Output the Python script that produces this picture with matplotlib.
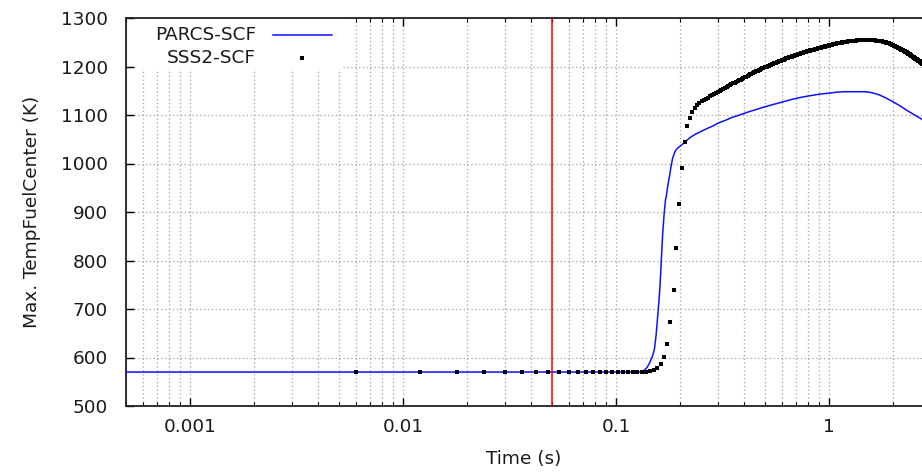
import numpy as np
import matplotlib
matplotlib.use("Agg")
import matplotlib.pyplot as plt
from matplotlib.patches import Rectangle
from matplotlib.ticker import FixedLocator, FixedFormatter, LogLocator, NullFormatter

plt.rcParams['font.family'] = ['DejaVu Sans']

# ---------------- data ----------------
parcs_time = [0.0005, 0.01, 0.1, 0.129, 0.136, 0.140, 0.144, 0.148, 0.1513, 0.154,
              0.1567, 0.159, 0.161, 0.163, 0.1655, 0.168, 0.1705, 0.172, 0.175, 0.178,
              0.181, 0.184, 0.188, 0.191, 0.195, 0.200, 0.209, 0.215, 0.225, 0.237,
              0.25, 0.27, 0.284, 0.30, 0.33, 0.35, 0.38, 0.422, 0.46, 0.5,
              0.55, 0.606, 0.68, 0.75, 0.82, 0.9, 1.0, 1.08, 1.17, 1.3,
              1.45, 1.55, 1.65, 1.73, 1.85, 2.0, 2.15, 2.31, 2.5, 2.73]
parcs_temp = [570, 570, 570, 570, 574, 580, 590, 602, 617, 645,
              684, 718, 753, 800, 856, 895, 925, 932, 955, 973,
              993, 1010, 1022, 1028, 1032, 1036, 1043, 1048, 1055, 1061,
              1066, 1073, 1077, 1083, 1090, 1095, 1100, 1107, 1112, 1117,
              1122, 1127, 1133, 1137, 1140, 1143, 1145, 1147, 1148, 1148,
              1148, 1147, 1144, 1141, 1135, 1127, 1119, 1110, 1101, 1091]

# SSS2 output every 0.006 s
sss2_dt = 0.006
sss2_temp = [
    570, 570, 570, 570, 570, 570, 570, 570, 570, 570, 570, 570, 570, 570, 570, 570, 570, 570, 570, 570, 570, 570,
    570, 572, 574, 578, 586, 601, 627, 673, 740, 826, 917, 990, 1044, 1077, 1094, 1106, 1114, 1121,
    1124, 1128, 1131, 1134, 1136, 1139, 1141, 1144, 1146, 1148,
    1150, 1152, 1154, 1156, 1158, 1160, 1162,
    1163, 1165, 1167, 1169, 1170,
    1172, 1173, 1175, 1176, 1178, 1179, 1181, 1182, 1184, 1185, 1187,
    1188, 1189, 1190, 1191, 1192, 1193, 1195, 1196, 1197, 1198, 1199, 1200, 1201, 1202,
    1203, 1204, 1205,
    1206, 1207, 1207, 1208, 1209,
    1210, 1211, 1211, 1212, 1213,
    1214, 1214, 1215, 1216, 1217,
    1218, 1218, 1219, 1219, 1220,
    1220, 1221, 1221, 1222, 1223,
    1223, 1224, 1224, 1225, 1225,
    1226, 1226, 1227, 1227, 1228,
    1228, 1229, 1229, 1230, 1230, 1231, 1231, 1232,
    1232, 1232, 1233, 1233, 1234, 1234, 1234, 1235, 1235,
    1236, 1236, 1236, 1237, 1237, 1238, 1238, 1238,
    1239, 1239, 1239, 1240, 1240, 1240, 1241, 1241, 1241, 1242,
    1242, 1242, 1243, 1243, 1243, 1243, 1244, 1244, 1244, 1245,
    1245, 1245, 1246, 1246, 1246, 1246, 1247, 1247,
    1247, 1247, 1248, 1248, 1248, 1248, 1248, 1248, 1249, 1249, 1249, 1249,
    1249, 1250, 1250, 1250, 1250, 1250, 1250, 1251, 1251, 1251,
    1251, 1251, 1251, 1252, 1252, 1252, 1252, 1252, 1252, 1253,
    1253, 1253, 1253, 1253, 1253, 1253, 1253, 1253, 1253, 1253, 1253, 1253, 1253, 1253,
    1254, 1254, 1254, 1254, 1254, 1254, 1254, 1254, 1254, 1254, 1254, 1254, 1254, 1254, 1254, 1254,
    1255, 1255, 1255, 1255, 1255, 1255, 1255, 1255, 1255, 1255, 1255, 1255, 1255, 1255, 1255, 1255,
    1255, 1255, 1255, 1255, 1255, 1255,
    1254, 1254, 1254, 1254, 1254, 1254, 1254, 1254, 1254, 1254, 1254, 1254, 1254,
    1253, 1253, 1253, 1253, 1253, 1253, 1253, 1253, 1253, 1253, 1253, 1253, 1253,
    1253, 1253, 1253, 1252, 1252, 1252, 1252, 1252, 1251, 1251, 1251, 1251,
    1251, 1251, 1250, 1250, 1250, 1250, 1250, 1250, 1249, 1249, 1249, 1249, 1249, 1249, 1248, 1248,
    1248, 1248, 1248, 1248,
    1247, 1247, 1247, 1246, 1246, 1246, 1246, 1245, 1245, 1245, 1245, 1244, 1244,
    1244, 1243, 1243, 1243, 1243, 1242, 1242, 1242, 1241, 1241, 1241, 1241, 1240, 1240, 1240, 1240,
    1239, 1239, 1239, 1238, 1238, 1238, 1238, 1237, 1237,
    1237, 1236, 1236, 1236, 1235, 1235, 1235, 1235, 1234, 1234, 1234, 1233,
    1233, 1233, 1232, 1232, 1232, 1232, 1231, 1231, 1231, 1230, 1230, 1230, 1230, 1229, 1229,
    1229, 1228, 1228, 1228, 1227, 1227, 1227, 1226, 1226, 1226, 1225, 1225, 1225, 1224, 1224,
    1224, 1223, 1223, 1223, 1222, 1222, 1222, 1221, 1221, 1221, 1220, 1220, 1220, 1219, 1219, 1219,
    1219, 1218, 1218, 1218,
    1217, 1217, 1217, 1216, 1216, 1216, 1215, 1215, 1215, 1215, 1214, 1214, 1214, 1213, 1213, 1213,
    1212, 1212, 1212, 1211, 1211, 1211, 1211, 1210, 1210,
    1210, 1209, 1209, 1208, 1208, 1208, 1207, 1207, 1206, 1206, 1205,
]
sss2_time = sss2_dt * np.arange(1, len(sss2_temp) + 1)

marker_time = 0.05

x_ticks = [0.001, 0.01, 0.1, 1]
x_tick_labels = ["0.001", "0.01", "0.1", "1"]
y_ticks = [500, 600, 700, 800, 900, 1000, 1100, 1200, 1300]

# ---------------- figure ----------------
W, H = 922, 474
fig = plt.figure(figsize=(W / 100, H / 100), dpi=100)
L, R, T, B = 126, 922, 18, 406
ax = fig.add_axes([L / W, 1 - B / H, (R - L) / W, (B - T) / H])

txt_color = '#1a1a1a'
fs = 13.3
msize = 3.0

ax.set_xscale('log')
ax.set_xlim(0.0005, 2.73)
ax.set_ylim(500, 1300)

ax.xaxis.set_major_locator(FixedLocator(x_ticks))
ax.xaxis.set_major_formatter(FixedFormatter(x_tick_labels))
ax.xaxis.set_minor_locator(LogLocator(base=10, subs=np.arange(2, 10), numticks=20))
ax.xaxis.set_minor_formatter(NullFormatter())
ax.yaxis.set_major_locator(FixedLocator(y_ticks))

ax.set_axisbelow(True)
grid_kw = dict(color='#a8a8a8', linewidth=0.9, linestyle=(0, (1.1, 2.0)))
ax.grid(True, which='major', axis='both', **grid_kw)
ax.grid(True, which='minor', axis='x', **grid_kw)

ax.tick_params(axis='both', which='major', direction='in', length=6, width=1.0,
               top=True, right=False, labelsize=fs, labelcolor=txt_color)
ax.tick_params(axis='x', which='minor', direction='in', length=3, width=0.8, top=True)
ax.tick_params(axis='x', which='major', pad=9)
ax.tick_params(axis='y', which='major', pad=13)

for s in ['left', 'bottom', 'top']:
    ax.spines[s].set_linewidth(1.3)
    ax.spines[s].set_color('#202020')
ax.spines['right'].set_visible(False)

# key background (opaque, like gnuplot)
ax.add_patch(Rectangle((0.011, 0.869), 0.262, 0.131, transform=ax.transAxes,
                       facecolor='white', edgecolor='none', zorder=0.8))

ax.plot(parcs_time, parcs_temp, color='#1010ff', linewidth=1.1, zorder=3)
ax.plot(sss2_time, sss2_temp, linestyle='none', marker='s', markersize=msize,
        markeredgewidth=0, color='black', zorder=4)
ax.axvline(marker_time, color='#ff0000', linewidth=1.1, zorder=5)

ax.set_xlabel('Time (s)', fontsize=fs, color=txt_color, labelpad=10)
ax.set_ylabel('Max. TempFuelCenter (K)', fontsize=fs, color=txt_color, labelpad=14)

# legend (text left, sample right, like gnuplot key)
def fx(p):
    return (p - L) / (R - L)

def fy(p):
    return (B - p) / (B - T)

ax.text(fx(256), fy(35), 'PARCS-SCF', transform=ax.transAxes, ha='right', va='center',
        fontsize=fs, color=txt_color, zorder=6)
ax.plot([fx(273), fx(332)], [fy(35), fy(35)], transform=ax.transAxes,
        color='#1010ff', linewidth=1.1, zorder=6, clip_on=False)
ax.text(fx(256), fy(58), 'SSS2-SCF', transform=ax.transAxes, ha='right', va='center',
        fontsize=fs, color=txt_color, zorder=6)
ax.plot([fx(302)], [fy(58)], transform=ax.transAxes, linestyle='none', marker='s',
        markersize=msize, markeredgewidth=0, color='black', zorder=6, clip_on=False)

fig.savefig('out.png', dpi=100)
